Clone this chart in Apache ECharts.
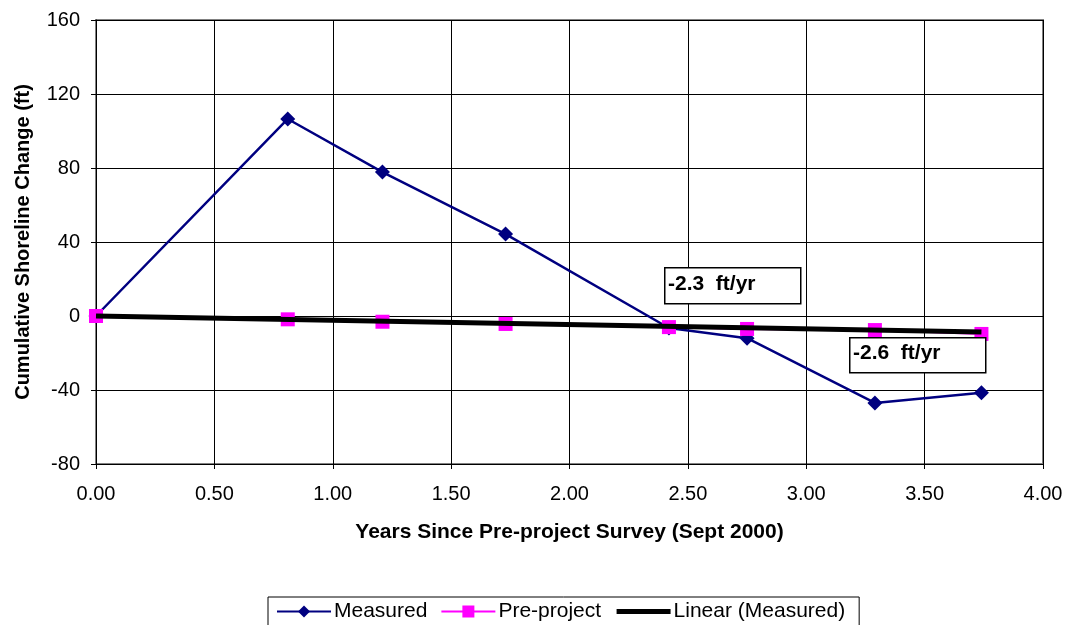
<!DOCTYPE html>
<html><head><meta charset="utf-8">
<script src="https://cdn.jsdelivr.net/npm/echarts@6/dist/echarts.min.js"></script>
<style>html,body{margin:0;padding:0;background:#fff}#c{width:1067px;height:625px}</style>
</head><body><div id="c"></div>
<script>
const years = [0, 0.81, 1.21, 1.73, 2.42, 2.75, 3.29, 3.74];
const measured = [0, 106.5, 77.8, 44.3, -6.5, -12, -47, -41.5];
const preProject = [0, -1.8, -3.1, -4.3, -6.0, -7.0, -7.6, -9.7];
const linearX = [0, 3.74];
const linearY = [0, -8.6];
const xTicks = [0, 0.5, 1, 1.5, 2, 2.5, 3, 3.5, 4];
const yTicks = [-80, -40, 0, 40, 80, 120, 160];
const rateLabels = ['-2.3  ft/yr', '-2.6  ft/yr'];

const font = 'Liberation Sans, Arial, sans-serif';
const FS = 20;
const FT = 21;
const chart = echarts.init(document.getElementById('c'), null, {renderer: 'canvas'});
const pair = (xs, ys) => xs.map((x, i) => [x, ys[i]]);

chart.setOption({
  animation: false,
  textStyle: {fontFamily: font},
  grid: {left: 96, right: 24, top: 20, bottom: 161, show: true, borderColor: '#808080', borderWidth: 2, containLabel: false},
  xAxis: {
    type: 'value', min: xTicks[0], max: xTicks[xTicks.length - 1], interval: 0.5,
    name: 'Years Since Pre-project Survey (Sept 2000)', nameLocation: 'middle', nameGap: 58,
    nameTextStyle: {fontFamily: font, fontSize: FT, fontWeight: 'bold', color: '#000'},
    axisLine: {onZero: false, lineStyle: {color: '#000', width: 1}},
    axisTick: {show: true, length: 5, lineStyle: {color: '#000'}},
    axisLabel: {fontFamily: font, fontSize: FS, color: '#000', margin: 20, formatter: v => v.toFixed(2)},
    splitLine: {show: true, lineStyle: {color: '#000', width: 1}}
  },
  yAxis: {
    type: 'value', min: yTicks[0], max: yTicks[yTicks.length - 1], interval: 40,
    name: 'Cumulative Shoreline Change (ft)', nameLocation: 'middle', nameGap: 63,
    nameTextStyle: {fontFamily: font, fontSize: FS, fontWeight: 'bold', color: '#000'},
    axisLine: {show: true, lineStyle: {color: '#000', width: 1}},
    axisTick: {show: true, length: 5, lineStyle: {color: '#000'}},
    axisLabel: {fontFamily: font, fontSize: FS, color: '#000', margin: 16},
    splitLine: {show: true, lineStyle: {color: '#000', width: 1}}
  },
  legend: {
    top: 597, left: 268, itemGap: 13, itemWidth: 54, itemHeight: 15,
    borderColor: '#000', borderWidth: 1, padding: [4, 14, 14, 8],
    textStyle: {fontFamily: font, fontSize: FT, color: '#000', padding: [0, 0, 0, -2]},
    data: [
      {name: 'Measured', lineStyle: {width: 2}},
      {name: 'Pre-project', lineStyle: {width: 2}},
      {name: 'Linear (Measured)', itemStyle: {opacity: 0}, lineStyle: {width: 5, color: '#000'}}
    ]
  },
  series: [
    {name: 'Measured', type: 'line', data: pair(years, measured), symbol: 'diamond', symbolSize: 15,
     itemStyle: {color: '#000080'}, lineStyle: {color: '#000080', width: 2.5}, z: 2},
    {name: 'Pre-project', type: 'line', data: pair(years, preProject), symbol: 'rect', symbolSize: 14,
     itemStyle: {color: '#FF00FF'}, lineStyle: {color: '#FF00FF', width: 2}, z: 3},
    {name: 'Linear (Measured)', type: 'line', data: pair(linearX, linearY), symbol: 'none', showSymbol: false,
     itemStyle: {color: '#000'}, lineStyle: {color: '#000', width: 5}, z: 4}
  ],
  graphic: [
    {type: 'rect', left: 664, top: 267, shape: {width: 136, height: 36}, style: {fill: '#fff', stroke: '#000', lineWidth: 1.5}, z: 10},
    {type: 'text', left: 668, top: 274, style: {text: rateLabels[0], font: 'bold 21px ' + font, fill: '#000'}, z: 11},
    {type: 'rect', left: 849, top: 337, shape: {width: 136, height: 35}, style: {fill: '#fff', stroke: '#000', lineWidth: 1.5}, z: 10},
    {type: 'text', left: 853, top: 343, style: {text: rateLabels[1], font: 'bold 21px ' + font, fill: '#000'}, z: 11}
  ]
});
</script>
</body></html>
